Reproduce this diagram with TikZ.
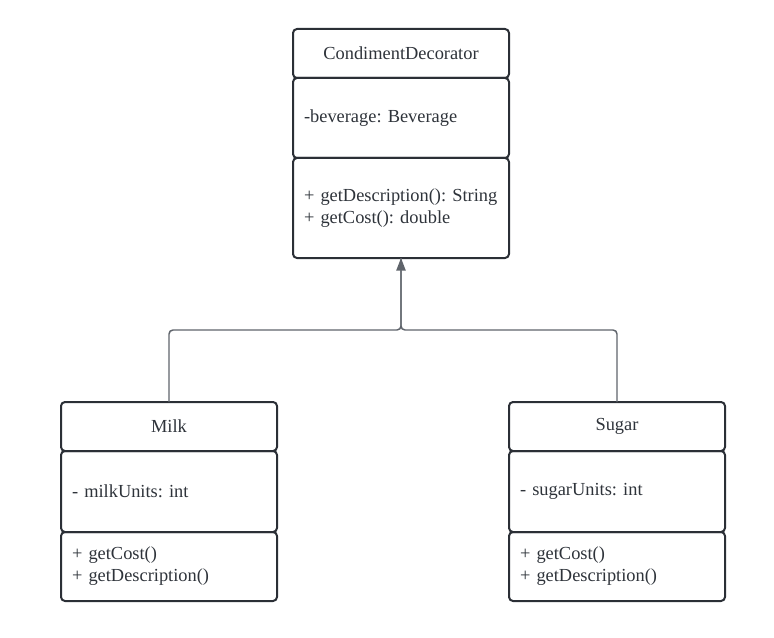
\documentclass[tikz,border=0pt]{standalone}
\usepackage{fontspec}
\setmainfont{Liberation Serif}
\usetikzlibrary{positioning,arrows.meta}
\definecolor{umlline}{HTML}{2B2F36}
\definecolor{umltext}{HTML}{2E333A}
\definecolor{umlconn}{HTML}{5F646B}
\frenchspacing
\tikzset{
  part/.style={draw=umlline,line width=1.5pt,rounded corners=3pt,outer sep=0pt,
    minimum width=162pt,text=umltext,font=\fontsize{13.8}{16.5}\selectfont},
  headpart/.style={part,minimum height=36.75pt,align=center},
  listpart/.style={part,inner xsep=8.25pt,text width=145.5pt,align=left},
  conn/.style={draw=umlconn,line width=1.1pt,rounded corners=3pt},
  inherit/.style={conn,-{Triangle[length=9.5pt,width=7pt]}}
}
\begin{document}
\begin{tikzpicture}[x=0.75pt,y=-0.75pt]
\useasboundingbox (0,0) rectangle (774,638);
% decorator class
\node[headpart,anchor=north west] (cdHead) at (293,29) {CondimentDecorator};
\node[listpart,minimum height=60pt,below=0pt of cdHead] (cdAttr) {-beverage: Beverage};
\node[listpart,minimum height=75pt,below=0pt of cdAttr] (cdOps) {+ getDescription(): String\\+ getCost(): double};
% milk
\node[headpart,anchor=north west] (milkHead) at (61,402) {Milk};
\node[listpart,minimum height=60.75pt,below=0pt of milkHead] (milkAttr) {- milkUnits: int};
\node[listpart,minimum height=51.75pt,below=0pt of milkAttr] (milkOps) {+ getCost()\\+ getDescription()};
% sugar
\node[headpart,anchor=north west] (sugarHead) at (509,402) {Sugar};
\node[listpart,minimum height=60.75pt,below=0pt of sugarHead] (sugarAttr) {- sugarUnits: int};
\node[listpart,minimum height=51.75pt,below=0pt of sugarAttr] (sugarOps) {+ getCost()\\+ getDescription()};
% inheritance
\coordinate (join) at (401,330);
\draw[conn] (sugarHead.north) |- (join) -- (cdOps.south);
\draw[inherit] (milkHead.north) |- (join) -- (cdOps.south);
\end{tikzpicture}
\end{document}
